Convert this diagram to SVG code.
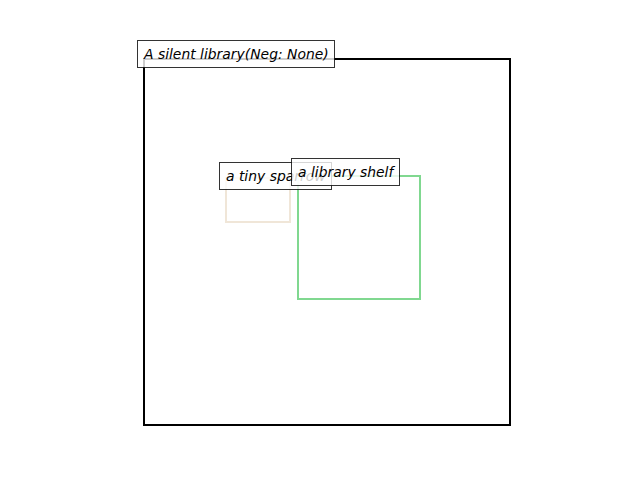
<svg xmlns="http://www.w3.org/2000/svg" width="640" height="480" viewBox="0 0 640 480">
<style>
.box{fill:none;stroke-width:2}
.lbl{fill:#ffffff;fill-opacity:0.8;stroke:#000;stroke-opacity:0.8;stroke-width:1}
.txt{font-family:"DejaVu Sans",sans-serif;font-style:oblique;font-size:13.9px;fill:#000}
</style>
<rect width="640" height="480" fill="#fff"/>
<g id="library">
<rect class="box" x="144" y="59" width="366" height="366" stroke="#000"/>
</g>
<g id="sparrow">
<rect class="box" x="226" y="178" width="64" height="44" stroke="#f0e6d8"/>
</g>
<g id="shelf">
<rect class="box" x="298" y="176" width="122" height="123" stroke="#80d890"/>
</g>
<g id="connectors"></g>
<g id="labels">
<g id="label-library">
<rect class="lbl" x="137.5" y="40.5" width="197" height="27"/>
<text class="txt" x="144" y="59">A silent library(Neg: None)</text>
</g>
<g id="label-sparrow">
<rect class="lbl" x="219.5" y="162.5" width="112" height="27"/>
<text class="txt" x="226" y="181">a tiny sparrow</text>
</g>
<g id="label-shelf">
<rect class="lbl" x="291.5" y="158.5" width="108" height="27"/>
<text class="txt" x="298" y="177">a library shelf</text>
</g>
</g>
</svg>
